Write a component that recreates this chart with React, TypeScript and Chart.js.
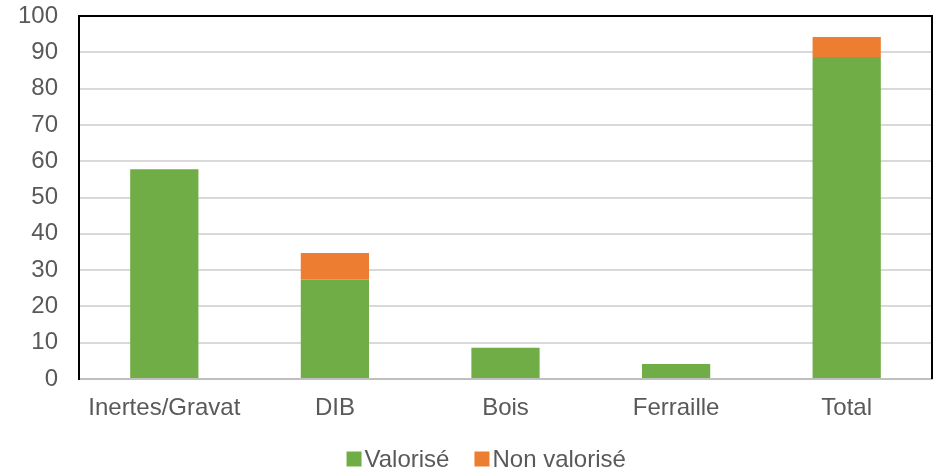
import React, { useEffect, useRef } from "react";
import { Chart, registerables } from "chart.js";

Chart.register(...registerables);

const categories = ["Inertes/Gravat", "DIB", "Bois", "Ferraille", "Total"];
const valorise = [57.8, 27.4, 8.6, 4.1, 88.7];
const nonValorise = [0, 7.3, 0, 0, 5.5];
const seriesNames = ["Valorisé", "Non valorisé"];
const seriesColors = ["#70AD47", "#ED7D31"];
const yMin = 0;
const yMax = 100;
const yStep = 10;

const FONT = "'Liberation Sans', Arial, sans-serif";
const TEXT = "#595959";

const framePlugin = {
  id: "frame",
  afterDraw(chart: any) {
    const { ctx, chartArea } = chart;
    const { left, right, top, bottom } = chartArea;
    ctx.save();
    ctx.strokeStyle = "#000000";
    ctx.lineWidth = 2;
    ctx.beginPath();
    ctx.moveTo(left, bottom);
    ctx.lineTo(left, top);
    ctx.lineTo(right, top);
    ctx.lineTo(right, bottom);
    ctx.stroke();
    ctx.restore();
  },
};

const customLegend = {
  id: "customLegend",
  afterDraw(chart: any) {
    const { ctx } = chart;
    const datasets = chart.data.datasets;
    const box = 15;
    const gap = 3;
    const itemGap = 25;
    ctx.save();
    ctx.font = `24px ${FONT}`;
    const widths = datasets.map((d: any) => box + gap + ctx.measureText(d.label).width);
    const total = widths.reduce((a: number, b: number) => a + b, 0) + itemGap * (datasets.length - 1);
    let x = chart.width * 0.52 - total / 2;
    const cy = 459;
    ctx.textBaseline = "middle";
    ctx.textAlign = "left";
    datasets.forEach((d: any, i: number) => {
      ctx.fillStyle = d.backgroundColor;
      ctx.fillRect(x, cy - box / 2, box, box);
      ctx.fillStyle = TEXT;
      ctx.fillText(d.label, x + box + gap, cy + 1);
      x += widths[i] + itemGap;
    });
    ctx.restore();
  },
};

export default function App() {
  const ref = useRef<HTMLCanvasElement | null>(null);
  useEffect(() => {
    if (!ref.current) return;
    const chart = new Chart(ref.current, {
      type: "bar",
      data: {
        labels: categories,
        datasets: [
          {
            label: seriesNames[0],
            data: valorise,
            backgroundColor: seriesColors[0],
            barPercentage: 0.4,
            categoryPercentage: 1,
          },
          {
            label: seriesNames[1],
            data: nonValorise,
            backgroundColor: seriesColors[1],
            barPercentage: 0.4,
            categoryPercentage: 1,
          },
        ],
      },
      options: {
        animation: false,
        responsive: false,
        maintainAspectRatio: false,
        layout: { padding: { top: 16, right: 3, left: 0, bottom: 0 } },
        plugins: {
          legend: { display: false },
          tooltip: { enabled: false },
        },
        scales: {
          x: {
            stacked: true,
            grid: { display: false, drawTicks: false },
            border: { display: true, color: "#BFBFBF", width: 2 },
            ticks: {
              color: TEXT,
              font: { family: FONT, size: 24 },
              padding: 15,
              maxRotation: 0,
              autoSkip: false,
            },
            afterFit(scale: any) {
              scale.height = 97;
              scale.paddingLeft = 0;
              scale.paddingRight = 0;
            },
          },
          y: {
            stacked: true,
            min: yMin,
            max: yMax,
            grid: { color: "#D9D9D9", lineWidth: 2, drawTicks: false },
            border: { display: true, color: "#000000", width: 2 },
            ticks: {
              stepSize: yStep,
              color: TEXT,
              font: { family: FONT, size: 24 },
              padding: 21,
            },
            afterFit(scale: any) {
              scale.width = 79;
              scale.paddingTop = 0;
              scale.paddingBottom = 0;
            },
          },
        },
      },
      plugins: [framePlugin, customLegend],
    });
    return () => chart.destroy();
  }, []);
  return (
    <div style={{ position: "fixed", left: 0, top: 0, width: 935, height: 476, background: "#fff" }}>
      <canvas ref={ref} width={935} height={476} style={{ width: 935, height: 476 }} />
    </div>
  );
}
